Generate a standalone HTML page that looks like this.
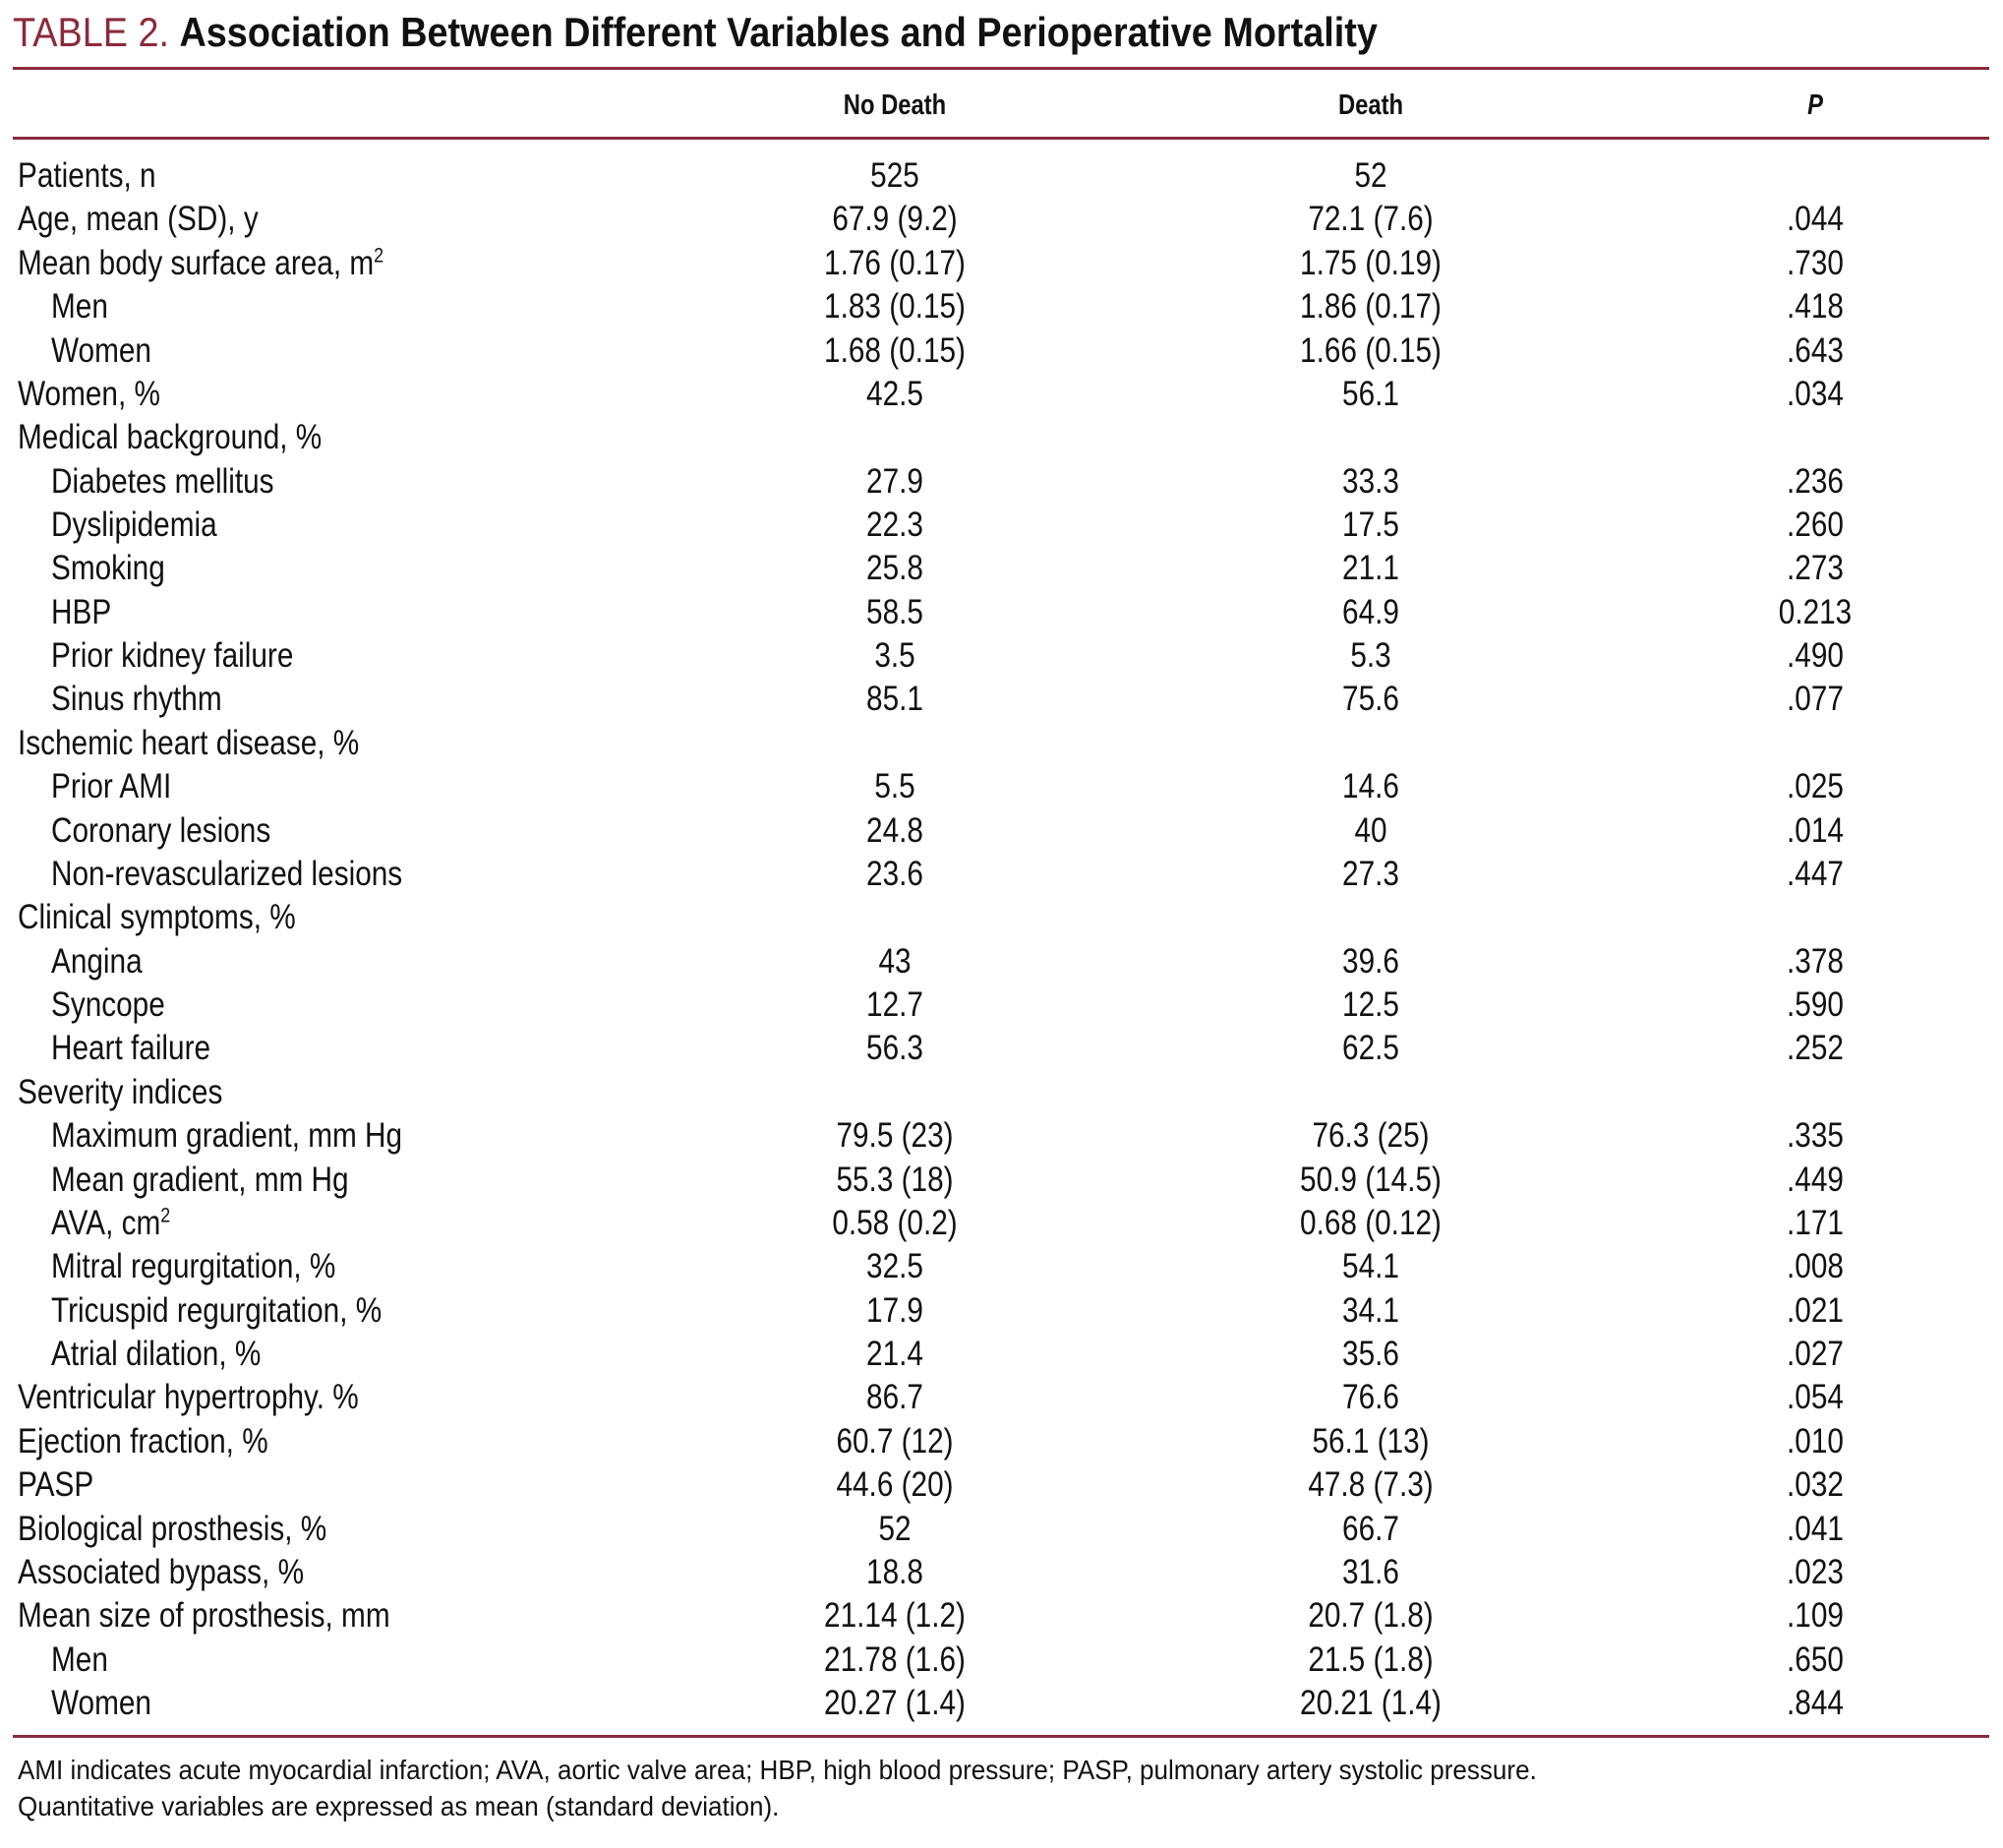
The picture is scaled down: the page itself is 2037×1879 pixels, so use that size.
<!DOCTYPE html>
<html><head><meta charset="utf-8">
<style>
html,body{margin:0;padding:0;background:#fff;}
body{width:2037px;height:1879px;position:relative;overflow:hidden;font-family:"Liberation Sans",sans-serif;color:#111;}
.t{position:absolute;white-space:nowrap;line-height:44px;height:44px;transform-origin:0 50%;}
.rule{position:absolute;left:13px;width:2010px;height:3px;background:#8a2a3c;}
.c{transform-origin:50% 50%;}
sup{font-size:60%;line-height:0;vertical-align:super;}
</style></head>
<body>
<div class="t" style="left:13px;top:11px;font-size:42px;transform:scaleX(.9)"><span style="color:#8a2a3c">TABLE 2.</span> <b>Association Between Different Variables and Perioperative Mortality</b></div>
<div class="rule" style="top:68px"></div>
<div class="t c" style="left:910px;top:85px;font-size:29px;font-weight:bold;transform:translateX(-50%) scaleX(.82)">No Death</div>
<div class="t c" style="left:1394px;top:85px;font-size:29px;font-weight:bold;transform:translateX(-50%) scaleX(.82)">Death</div>
<div class="t c" style="left:1846px;top:85px;font-size:29px;font-weight:bold;font-style:italic;transform:translateX(-50%) scaleX(.82)">P</div>
<div class="rule" style="top:139px"></div>
<div id="rows"></div>
<div class="rule" style="top:1764px"></div>
<div class="t" style="left:18px;top:1778px;font-size:28px;transform:scaleX(.93)">AMI indicates acute myocardial infarction; AVA, aortic valve area; HBP, high blood pressure; PASP, pulmonary artery systolic pressure.</div>
<div class="t" style="left:18px;top:1815px;font-size:28px;transform:scaleX(.93)">Quantitative variables are expressed as mean (standard deviation).</div>
<script>
const labels=["Patients, n","Age, mean (SD), y","Mean body surface area, m<sup>2</sup>","Men","Women","Women, %","Medical background, %","Diabetes mellitus","Dyslipidemia","Smoking","HBP","Prior kidney failure","Sinus rhythm","Ischemic heart disease, %","Prior AMI","Coronary lesions","Non-revascularized lesions","Clinical symptoms, %","Angina","Syncope","Heart failure","Severity indices","Maximum gradient, mm Hg","Mean gradient, mm Hg","AVA, cm<sup>2</sup>","Mitral regurgitation, %","Tricuspid regurgitation, %","Atrial dilation, %","Ventricular hypertrophy. %","Ejection fraction, %","PASP","Biological prosthesis, %","Associated bypass, %","Mean size of prosthesis, mm","Men","Women"];
const indent=[0,0,0,1,1,0,0,1,1,1,1,1,1,0,1,1,1,0,1,1,1,0,1,1,1,1,1,1,0,0,0,0,0,0,1,1];
const noDeath=["525","67.9 (9.2)","1.76 (0.17)","1.83 (0.15)","1.68 (0.15)","42.5","","27.9","22.3","25.8","58.5","3.5","85.1","","5.5","24.8","23.6","","43","12.7","56.3","","79.5 (23)","55.3 (18)","0.58 (0.2)","32.5","17.9","21.4","86.7","60.7 (12)","44.6 (20)","52","18.8","21.14 (1.2)","21.78 (1.6)","20.27 (1.4)"];
const death=["52","72.1 (7.6)","1.75 (0.19)","1.86 (0.17)","1.66 (0.15)","56.1","","33.3","17.5","21.1","64.9","5.3","75.6","","14.6","40","27.3","","39.6","12.5","62.5","","76.3 (25)","50.9 (14.5)","0.68 (0.12)","54.1","34.1","35.6","76.6","56.1 (13)","47.8 (7.3)","66.7","31.6","20.7 (1.8)","21.5 (1.8)","20.21 (1.4)"];
const pvals=["",".044",".730",".418",".643",".034","",".236",".260",".273","0.213",".490",".077","",".025",".014",".447","",".378",".590",".252","",".335",".449",".171",".008",".021",".027",".054",".010",".032",".041",".023",".109",".650",".844"];
const root=document.getElementById('rows');
const y0=179,pitch=44.37;
labels.forEach((lab,i)=>{
  const top=(y0+i*pitch-22).toFixed(1)+'px';
  const l=document.createElement('div');
  l.className='t';
  
  
  l.style.cssText='left:'+(indent[i]?52:18)+'px;top:'+top+';font-size:35px;transform:scaleX(.85)';
  l.innerHTML=lab;root.appendChild(l);
  [[noDeath[i],910,'cell-no-death'],[death[i],1394,'cell-death'],[pvals[i],1846,'cell-p-value']].forEach(([v,x,n])=>{
    if(!v)return;
    const d=document.createElement('div');
    d.className='t c';
    
    
    d.style.cssText='left:'+x+'px;top:'+top+';font-size:35px;transform:translateX(-50%) scaleX(.85)';
    d.textContent=v;root.appendChild(d);
  });
});
</script>
</body></html>
